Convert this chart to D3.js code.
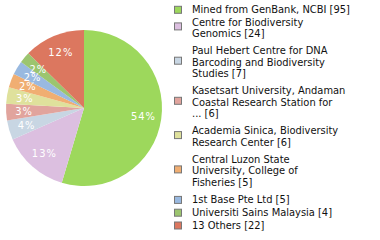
<!DOCTYPE html>
<html><head><meta charset="utf-8">
<script src="https://cdn.jsdelivr.net/npm/d3@7"></script>
<style>body{margin:0;background:#fff}svg{display:block}</style>
</head><body>
<svg id="c" width="380" height="240"></svg>
<script>
const labels = [
  ["Mined from GenBank, NCBI [95]"],
  ["Centre for Biodiversity","Genomics [24]"],
  ["Paul Hebert Centre for DNA","Barcoding and Biodiversity","Studies [7]"],
  ["Kasetsart University, Andaman","Coastal Research Station for","... [6]"],
  ["Academia Sinica, Biodiversity","Research Center [6]"],
  ["Central Luzon State","University, College of","Fisheries [5]"],
  ["1st Base Pte Ltd [5]"],
  ["Universiti Sains Malaysia [4]"],
  ["13 Others [22]"]
];
const values = [95, 24, 7, 6, 6, 5, 5, 4, 22];
const colors = ["#9dd85c","#dcbfe0","#c8d6e3","#e1a49d","#dfe19c","#f0ae72","#99b9e0","#9cc56f","#dc775f"];

const svg = d3.select("#c");
const font = "'DejaVu Sans Condensed', 'DejaVu Sans', sans-serif";
const total = d3.sum(values);
const cx = 84, cy = 108, r = 78;
const pie = d3.pie().sort(null).value(d => d)(values);
const arc = d3.arc().innerRadius(0).outerRadius(r);
const labArc = d3.arc().innerRadius(60).outerRadius(60);
const g = svg.append("g").attr("transform", `translate(${cx},${cy})`);
g.selectAll("path").data(pie).join("path")
  .attr("d", arc).attr("fill", (d,i) => colors[i]);
g.selectAll("text").data(pie).join("text")
  .attr("transform", d => `translate(${labArc.centroid(d)})`)
  .attr("text-anchor","middle").attr("dominant-baseline","central")
  .attr("fill","#fff").attr("font-family",font).attr("font-size",11)
  .attr("letter-spacing",1)
  .text(d => Math.floor(d.value / total * 100) + "%");

// legend
const lineH = 11.6;
let y = 3.5;
const lg = svg.append("g");
labels.forEach((lines, i) => {
  const h = lines.length * lineH;
  const multi = lines.length > 1;
  const item = lg.append("g");
  const sq = y + h/2 + (multi ? -1.5 : 0.5);
  item.append("rect").attr("x",174.5).attr("y", sq - 3.5).attr("width",7).attr("height",7)
    .attr("fill",colors[i]).attr("stroke","#777").attr("stroke-width",1);
  lines.forEach((t, j) => {
    item.append("text").attr("x",192).attr("y", y + j*lineH + lineH/2)
      .attr("dominant-baseline","central").attr("font-family",font).attr("font-size",11)
      .attr("fill","#111").text(t);
  });
  y += h + (multi ? 5.3 : 1.2);
});
</script>
</body></html>
